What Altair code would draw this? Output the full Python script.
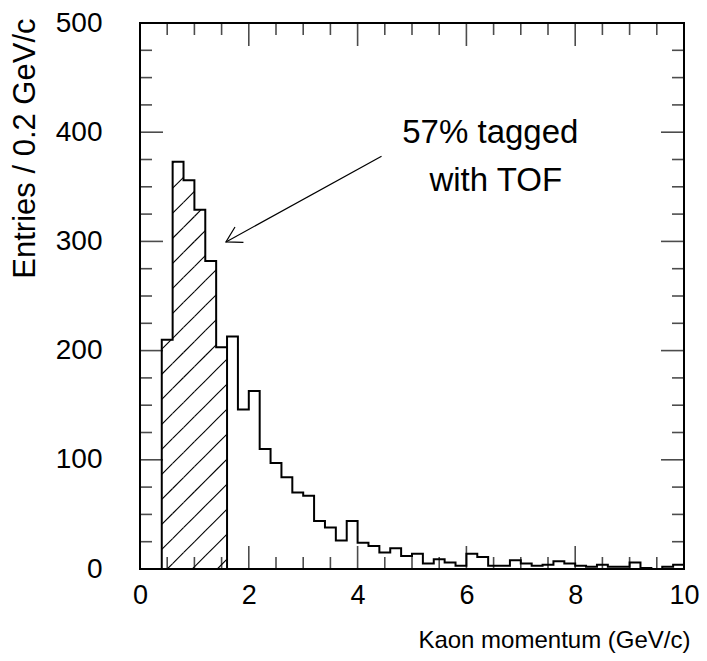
import math
import altair as alt
import pandas as pd

# ---------------- data ----------------
bin_starts = [0.0, 0.2, 0.4, 0.6, 0.8, 1.0, 1.2, 1.4, 1.6, 1.8,
              2.0, 2.2, 2.4, 2.6, 2.8, 3.0, 3.2, 3.4, 3.6, 3.8,
              4.0, 4.2, 4.4, 4.6, 4.8, 5.0, 5.2, 5.4, 5.6, 5.8,
              6.0, 6.2, 6.4, 6.6, 6.8, 7.0, 7.2, 7.4, 7.6, 7.8,
              8.0, 8.2, 8.4, 8.6, 8.8, 9.0, 9.2, 9.4, 9.6, 9.8]
counts = [0, 0, 210, 373, 356, 329, 282, 203, 213, 146,
          163, 110, 97, 84, 70, 67, 44, 38, 26, 44,
          24, 21, 15, 19, 12, 14, 5, 9, 6, 3,
          14, 11, 3, 3, 8, 5, 3, 4, 7, 5,
          3, 2, 4, 2, 2, 6, 1, 0, 2, 4]
bin_width = 0.2
tagged_range = [0.4, 1.6]

x_major = [0, 2, 4, 6, 8, 10]
x_minor = [0.5, 1, 1.5, 2.5, 3, 3.5, 4.5, 5, 5.5, 6.5, 7, 7.5, 8.5, 9, 9.5]
y_major = [0, 100, 200, 300, 400, 500]
y_minor = [25, 50, 75, 125, 150, 175, 225, 250, 275, 325, 350, 375, 425, 450, 475]

annot_lines = ["57% tagged", "with TOF"]
annot_x = [6.44, 6.54]
annot_y = [399, 355]
arrow_from = (4.44, 378)
arrow_to = (1.58, 299.5)

# ---------------- layout / style ----------------
W, H = 544, 546
XMAX, YMAX = 10, 500
FONT = "Liberation Sans"
HATCH_SPACING = 0.46   # GeV between hatch lines (along x)
HATCH_ANCHOR = 0.5     # a hatch line crosses y=0 here
TICK_MAJOR, TICK_MINOR = 23, 12

xs = alt.Scale(domain=[0, XMAX], nice=False, zero=False)
ys = alt.Scale(domain=[0, YMAX], nice=False, zero=False)

# histogram outline (step)
step_df = pd.DataFrame({
    "x": bin_starts + [bin_starts[-1] + bin_width],
    "y": counts + [counts[-1]],
})
hist = alt.Chart(step_df).mark_line(
    interpolate="step-after", color="black", strokeWidth=2
).encode(
    x=alt.X("x:Q", scale=xs, axis=alt.Axis(
        values=x_major, format="d", labelFontSize=27, labelPadding=13,
        labelFlush=False, labelOverlap=False,
        title="Kaon momentum (GeV/c)", titleFontSize=24, titleFontWeight="normal",
        titleAnchor="end", titleAlign="right", titleBaseline="middle",
        titleX=550, titleY=71)),
    y=alt.Y("y:Q", scale=ys, axis=alt.Axis(
        values=y_major, format="d", labelFontSize=28, labelPadding=38,
        labelFlush=False, labelOverlap=False,
        title="Entries / 0.2 GeV/c", titleFontSize=31, titleFontWeight="normal",
        titleAngle=270, titleAlign="right", titleBaseline="middle",
        titleX=-115, titleY=-5)),
)

# hatch segments of the tagged bins
slope = (W / XMAX) / (H / YMAX)  # 45 degrees on screen
segs = []
for b, c in zip(bin_starts, counts):
    if b < tagged_range[0] - 1e-9 or b > tagged_range[1] - bin_width + 1e-9:
        continue
    x0, x1 = b, b + bin_width
    for j in range(-40, 10):
        a = HATCH_ANCHOR + j * HATCH_SPACING
        s = max(x0, a)
        e = min(x1, a + c / slope)
        if e - s > 1e-6:
            segs.append({"x": s, "y": slope * (s - a), "x2": e, "y2": slope * (e - a)})
hatch = alt.Chart(pd.DataFrame(segs)).mark_rule(color="black", strokeWidth=1.1).encode(
    x="x:Q", y="y:Q", x2="x2:Q", y2="y2:Q")

# right edge of the tagged region
last_tagged = [c for b, c in zip(bin_starts, counts)
               if abs(b - (tagged_range[1] - bin_width)) < 1e-9][0]
edge = alt.Chart(pd.DataFrame({"x": [tagged_range[1]], "y": [0], "y2": [last_tagged]})).mark_rule(
    color="black", strokeWidth=2).encode(x="x:Q", y="y:Q", y2="y2:Q")

# inward ticks on all four sides
def xticks(vals, length, top):
    return alt.Chart(pd.DataFrame({"t": vals})).mark_tick(
        orient="vertical", size=length, thickness=1.6, color="black",
        yOffset=(length / 2 if top else -length / 2)
    ).encode(x="t:Q", y=alt.datum(YMAX if top else 0))

def yticks(vals, length, right):
    return alt.Chart(pd.DataFrame({"t": vals})).mark_tick(
        orient="horizontal", size=length, thickness=1.6, color="black",
        xOffset=(-length / 2 if right else length / 2)
    ).encode(y="t:Q", x=alt.datum(XMAX if right else 0))

ticks = [
    xticks(x_major, TICK_MAJOR, False), xticks(x_minor, TICK_MINOR, False),
    xticks(x_major, TICK_MAJOR, True), xticks(x_minor, TICK_MINOR, True),
    yticks(y_major, TICK_MAJOR, False), yticks(y_minor, TICK_MINOR, False),
    yticks(y_major, TICK_MAJOR, True), yticks(y_minor, TICK_MINOR, True),
]

# annotation
text = alt.Chart(pd.DataFrame({"x": annot_x, "y": annot_y, "t": annot_lines})).mark_text(
    font=FONT, fontSize=33, align="center", baseline="middle", color="black"
).encode(x="x:Q", y="y:Q", text="t:N")

arrow_line = alt.Chart(pd.DataFrame({
    "x": [arrow_from[0]], "y": [arrow_from[1]], "x2": [arrow_to[0]], "y2": [arrow_to[1]]
})).mark_rule(color="black", strokeWidth=1.2).encode(x="x:Q", y="y:Q", x2="x2:Q", y2="y2:Q")

dx_px = (arrow_to[0] - arrow_from[0]) * W / XMAX
dy_px = -(arrow_to[1] - arrow_from[1]) * H / YMAX
ang = math.degrees(math.atan2(dy_px, dx_px)) % 360
arrow_head = alt.Chart(pd.DataFrame({"x": [arrow_to[0]], "y": [arrow_to[1]]})).mark_point(
    shape="M-0.866,-0.5L0,0L-0.866,0.5", size=1225, filled=False, color="black",
    strokeWidth=1.2, angle=ang, opacity=1
).encode(x="x:Q", y="y:Q")

chart = alt.layer(hist, hatch, edge, *ticks, arrow_line, arrow_head, text).properties(
    width=W, height=H,
    autosize=alt.AutoSizeParams(type="none"),
    padding={"left": 132, "top": 15, "right": 15, "bottom": 84},
).configure_view(stroke="black", strokeWidth=2).configure_axis(
    grid=False, domain=False, ticks=False, tickSize=0,
    labelFont=FONT, titleFont=FONT, labelColor="black", titleColor="black",
)

chart.save("out.html", embed_options={"renderer": "svg", "actions": False})
